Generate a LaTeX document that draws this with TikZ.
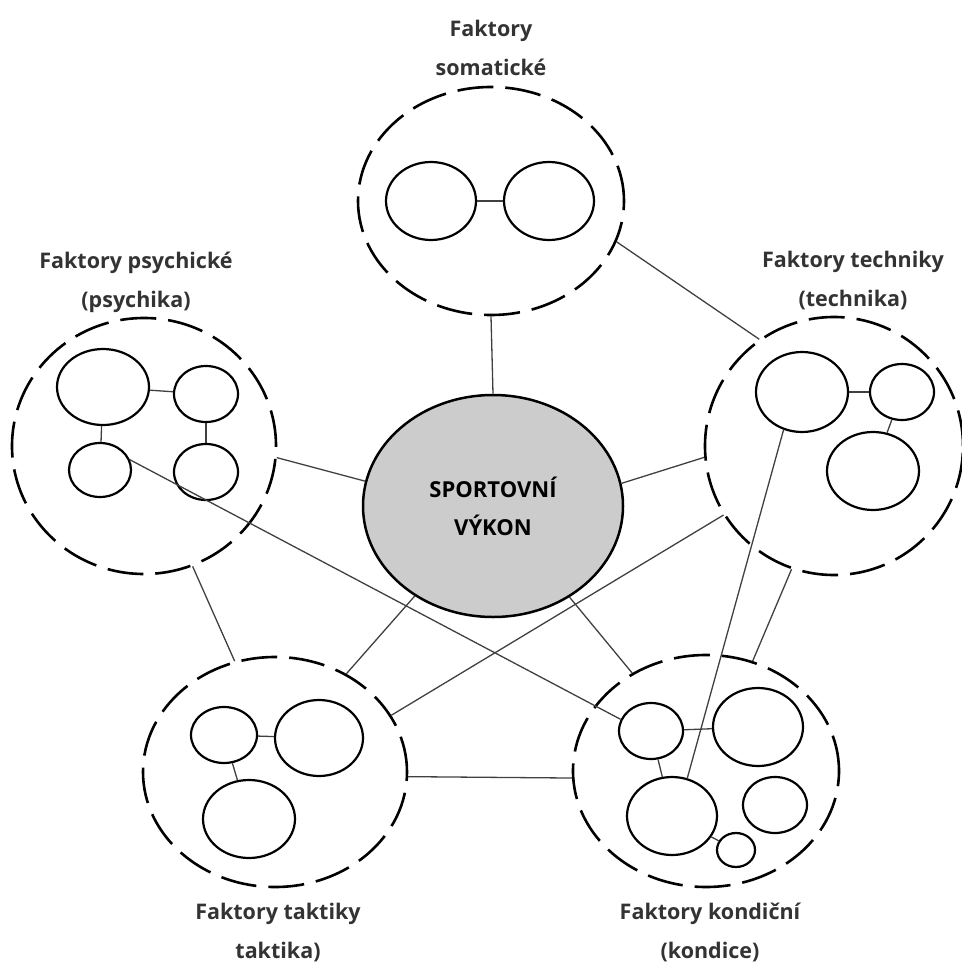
\documentclass[tikz,border=0pt]{standalone}
\usepackage{fontspec}
\setmainfont{Open Sans}
\usepackage{tikz}
\usetikzlibrary{shapes.geometric}

\definecolor{labelgray}{HTML}{333333}
\definecolor{coregray}{HTML}{CCCCCC}

\begin{document}
\begin{tikzpicture}[x=1pt,y=1pt,
    fac/.style 2 args={ellipse,draw,line width=2.6pt,dash pattern=on 36pt off 12pt,minimum width=#1,minimum height=#2,inner sep=0pt},
    sub/.style 2 args={ellipse,draw,line width=2.2pt,minimum width=#1,minimum height=#2,inner sep=0pt},
    link/.style={draw=black!75,line width=1.3pt},
    facname/.style={text=labelgray,align=center,font=\bfseries\fontsize{21.5}{39}\selectfont}
]
                \useasboundingbox (0,0) rectangle (961,-963);
                \node[ellipse,draw,line width=2.5pt,fill=coregray,minimum width=260,minimum height=222,inner sep=0pt,align=center,font=\bfseries\fontsize{22}{38}\selectfont] (vykon) at (493,-506) {SPORTOVNÍ\\VÝKON};
                \node[fac={266}{228}] (soma) at (491,-201) {};
                \node[fac={264}{256}] (psych) at (144,-446) {};
                \node[fac={258}{258}] (tech) at (834,-446) {};
                \node[fac={264}{230}] (takt) at (275,-772) {};
                \node[fac={266}{232}] (kond) at (706,-771) {};
                \node[facname] (somaname) at (491,-48) {Faktory\\somatické};
                \node[facname] (psychname) at (136,-282) {Faktory psychické\\(psychika)};
                \node[facname] (techname) at (853,-281) {Faktory techniky\\(technika)};
                \node[facname] (taktname) at (278,-933) {Faktory taktiky\\taktika)};
                \node[facname] (kondname) at (710,-932) {Faktory kondiční\\(kondice)};
                \node[sub={90}{78}] (soa) at (431,-201) {};
                \node[sub={90}{78}] (sob) at (549,-201) {};
                \node[sub={92}{76}] (psa) at (103,-387) {};
                \node[sub={64}{56}] (psb) at (206,-394) {};
                \node[sub={62}{54}] (psc) at (100,-470) {};
                \node[sub={64}{56}] (psd) at (206,-472) {};
                \node[sub={92}{80}] (tea) at (802,-392) {};
                \node[sub={64}{56}] (teb) at (902,-392) {};
                \node[sub={92}{78}] (tec) at (873,-471) {};
                \node[sub={66}{56}] (taa) at (224,-735) {};
                \node[sub={88}{76}] (tab) at (319,-738) {};
                \node[sub={92}{78}] (tac) at (249,-819) {};
                \node[sub={64}{56}] (koa) at (651,-731) {};
                \node[sub={90}{78}] (kob) at (758,-727) {};
                \node[sub={90}{78}] (koc) at (672,-816) {};
                \node[sub={64}{56}] (kod) at (775,-805) {};
                \node[sub={38}{34}] (koe) at (736,-850) {};
                \foreach \a/\b in {soa/sob,psa/psb,psa/psc,psb/psd,tea/teb,teb/tec,taa/tab,taa/tac,koa/kob,koa/koc,koc/koe}
                    \draw[link] (\a) -- (\b);
                \foreach \a/\b in {soma.south/vykon.north,soma.-18/tech.125,psych.-5/vykon.169,tech.185/vykon.10,psc.19/koa.159,tea.-116/koc.68,tech.-148/takt.26,tech.-109/kond.67,psych.-68/takt.110,vykon.-131/takt.54,vykon.-50/kond.127,takt.-2/kond.183}
                    \draw[link] (\a) -- (\b);
            \end{tikzpicture}
\end{document}
